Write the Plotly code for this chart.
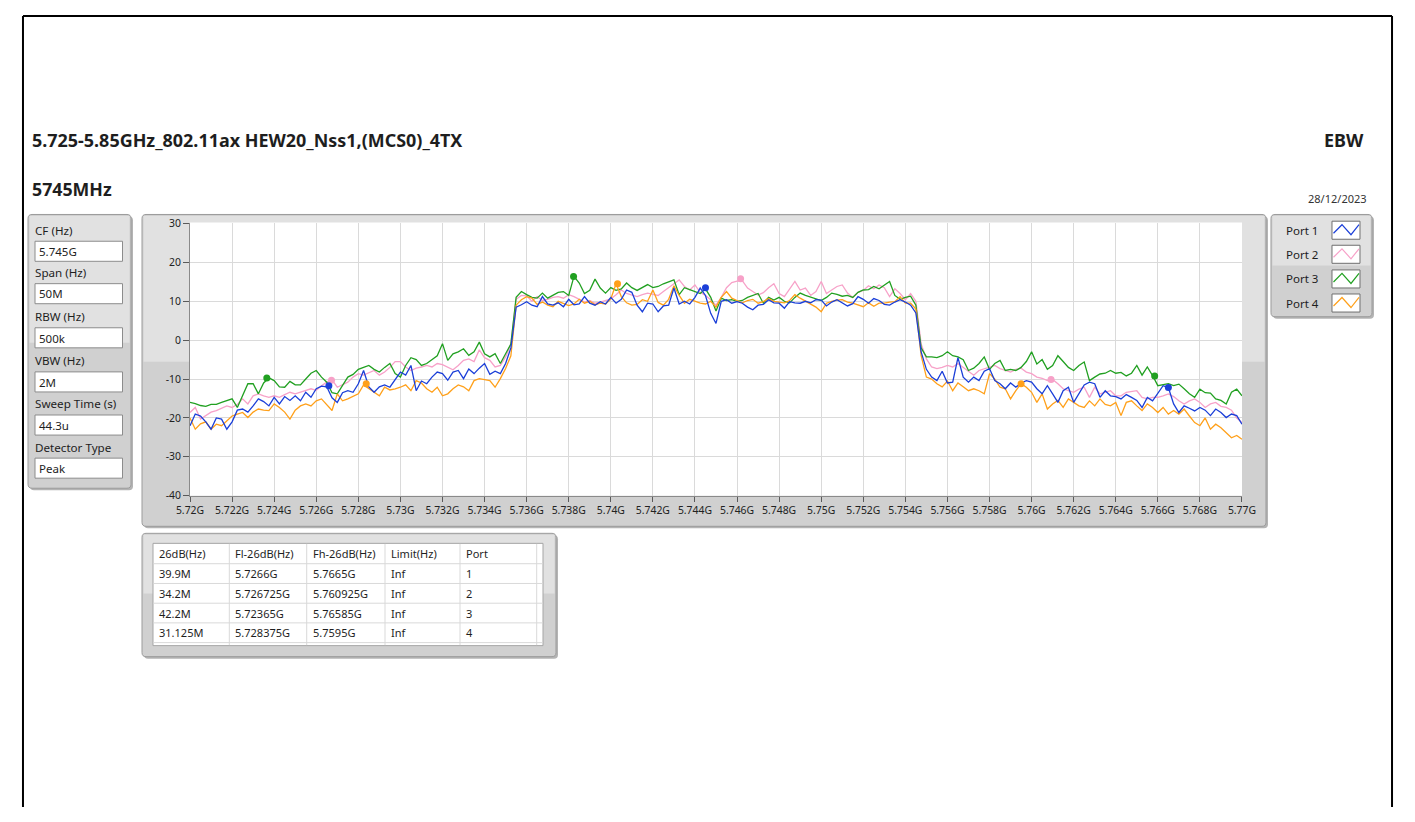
import numpy as np
import plotly.graph_objects as go

PAGE_W, PAGE_H = 1415, 822
BODY_MARGIN = 8
W, H = PAGE_W - 2 * BODY_MARGIN, PAGE_H - 2 * BODY_MARGIN
VIEW_SCALE = 0.98  # the photographed page is shrunk about its centre by this factor

# ---------------- data ----------------
FREQ_START_GHZ = 5.72
FREQ_STOP_GHZ = 5.77

# trace levels (dBm), one value every 0.25 MHz from 5.72 GHz to 5.77 GHz
PORT1 = [
    -22, -19, -19.5, -21, -22.9, -20, -20.3, -22.9, -21, -18, -17.7, -18.5, -16.9, -15.1, -15.8, -16.9, -14.7, -16.4, -14.5, -15.5,
    -14.3, -15.6, -13.4, -14.7, -12.5, -11.8, -12, -14.8, -16, -13.5, -13, -13.4, -11.2, -7.8, -12, -13.4, -12, -11.5, -12.1, -10.3,
    -8.2, -9, -6.5, -13, -10.5, -11.2, -9.5, -8.2, -8.6, -10.3, -8.2, -7.8, -9.9, -7.4, -8.6, -7.2, -6, -8.8, -8, -8.6,
    -6, -2, 8.5, 9.1, 9.9, 9, 8.6, 11.2, 9.3, 9, 9.6, 8.6, 10.5, 9.1, 9.3, 11.2, 9.5, 9, 9.9, 9.3,
    11, 9.5, 10.5, 12.9, 12.3, 9, 7.3, 9.5, 9.3, 7.3, 8.8, 9, 13.4, 9.3, 10, 9.3, 11, 13.4, 11.5, 6.9,
    4.3, 10, 10.4, 9.5, 9.9, 9.5, 8.5, 7.8, 9, 9.2, 10.4, 9.6, 9.5, 8.2, 9.9, 9.6, 9.5, 10, 9.6, 10.4,
    10.3, 8.8, 9.8, 10.4, 9.5, 8.8, 9.4, 11.2, 10.5, 9.5, 10.7, 10.2, 9.2, 9, 9.8, 10.4, 9.8, 9, 7, -3,
    -7.5, -9.5, -10.4, -8, -11, -10.8, -4.5, -9.5, -10.8, -9.5, -10.4, -8, -7.3, -10.4, -11.2, -12.5, -11, -12.1, -11, -10.4,
    -10.8, -12.5, -13.8, -11.7, -13.8, -16, -13, -12.1, -16, -13.8, -11.5, -10.8, -11.2, -14.7, -13, -14.3, -14.5, -15.1, -14, -14.7,
    -15.5, -17.3, -14.7, -15.6, -13.8, -11.7, -12.2, -16.4, -18.6, -16.9, -17.5, -18.2, -17.3, -18, -19.4, -17.7, -18.6, -19.9, -19, -19.4,
    -21.6,
]
PORT2 = [
    -18.6, -17.3, -20.3, -19.5, -18.5, -18.1, -17.5, -16.9, -17.3, -16.5, -15.1, -16.4, -14.3, -13.8, -14.3, -14.7, -14.3, -14.7, -14, -13.4,
    -13.8, -13.4, -12.8, -12.5, -12.9, -11.7, -10.8, -10.2, -12.1, -11.5, -10.8, -9.5, -8.6, -9, -8.5, -7.8, -9, -8.2, -7, -5.5,
    -5.5, -6.9, -7.8, -7.2, -6.9, -6.5, -6.9, -6, -6.3, -7, -7.6, -6.5, -5.2, -4.8, -5.5, -2.5, -4.5, -5.2, -6.9, -6.5,
    -4.3, -1, 10.5, 11.5, 11.4, 10, 11.2, 10.2, 10.5, 11, 11.2, 10.8, 11.7, 11.2, 10.4, 9.8, 10.2, 9.5, 9.8, 10.2,
    10.6, 11.7, 12.9, 12, 11.5, 11.2, 11.7, 12.1, 11.8, 11.5, 12.5, 13.4, 14.5, 15.5, 13.8, 12.9, 14.2, 12.3, 11.5, 10.4,
    9, 11, 13.5, 14.8, 15.2, 15.3, 13.4, 12.5, 11.6, 12.2, 13.5, 14.5, 12, 11.2, 13, 15.1, 12.9, 13.4, 11.5, 12.5,
    15.1, 12, 12.9, 13.8, 14.2, 12.1, 11, 12.3, 12.8, 14, 13.2, 14.2, 13.5, 11.2, 13.2, 12, 10.4, 12, 10, -1,
    -4.8, -6.9, -7.3, -7, -6.5, -6.9, -6, -7, -8.2, -9, -7.8, -7.3, -6.8, -6.5, -7.3, -7.8, -8.2, -7.5, -7.2, -8.2,
    -8.6, -9.5, -9.8, -10.4, -10.1, -11.2, -12.5, -13, -13.4, -12.6, -12.1, -14.7, -12.1, -13.8, -13.4, -13, -14.3, -14.3, -13.4, -13.2,
    -13, -14.7, -15.1, -14.7, -14.7, -14.3, -13.8, -14.5, -15.6, -16.4, -15.6, -15.1, -16, -17.3, -16.4, -16, -17, -17.3, -18, -20,
    -21.2,
]
PORT3 = [
    -16, -16.3, -16.8, -17, -16.5, -16.5, -16, -15.5, -15.1, -17.3, -14, -11.2, -11.2, -13.8, -11, -9.7, -10.4, -12, -12.1, -10.6,
    -11.5, -11.5, -10, -8.5, -7.8, -9.5, -10.8, -13.5, -13.8, -11.5, -9.5, -8.8, -7.5, -7, -6.5, -7.5, -8.2, -7, -6, -8.6,
    -9.5, -6.5, -4.5, -5, -6.5, -6, -5, -4, -0.9, -5.2, -3.5, -3, -2.2, -3.9, -3, -0.5, -3.5, -4.3, -3.5, -6,
    -3.5, -1, 11, 12.5, 11.7, 11, 10.8, 12.1, 10.8, 11.5, 12.3, 12.5, 11.5, 16.4, 14.7, 12, 12.8, 15.7, 13.4, 12.1,
    13.5, 12.8, 13.2, 14.7, 13.5, 12.8, 13.5, 14.3, 13.5, 13.8, 14.5, 15.1, 15.5, 11.7, 13.5, 13, 12.5, 12, 13.2, 11,
    7.5, 10.8, 10.2, 10.4, 10, 10.2, 11, 11.5, 12, 9.5, 11, 10.3, 11, 10, 9.6, 11, 12.1, 11.5, 11, 10.5,
    10.2, 11, 12.1, 11.8, 11.3, 11.5, 11, 12.3, 12.9, 13, 13.8, 13.2, 14.2, 15.1, 11.5, 10.5, 11, 11.3, 9, -2,
    -4.3, -4.3, -4.5, -4, -3, -4, -4.3, -5, -7.8, -7.2, -6, -4.3, -7.5, -6, -5.2, -7.8, -7.5, -7.8, -7, -5.5,
    -3, -6.1, -5, -7.5, -6.5, -4, -5.5, -7, -7.8, -6.5, -5.6, -10.4, -9.5, -8.7, -8.5, -7.8, -8.5, -8.3, -9.2, -8.5,
    -6.5, -9, -6.9, -9.1, -11.7, -11.5, -11.2, -11.7, -11.3, -12.5, -13.8, -14.7, -12.6, -13.5, -13.6, -15.1, -15.5, -16.4, -13.4, -12.6,
    -14.3,
]
PORT4 = [
    -20, -22.9, -21.5, -21, -22.9, -21.6, -22, -20.7, -19.5, -19, -18.6, -19.9, -18.5, -17.7, -18, -18.1, -16.4, -17.3, -18.5, -20.3,
    -18, -16.9, -16.4, -16.9, -15.6, -15.1, -16.5, -18.1, -13.8, -15.6, -15.1, -14.5, -13.8, -11.5, -12.5, -13.5, -14.3, -12.1, -12.8, -12.5,
    -12.1, -11.5, -13, -10.4, -11, -12.5, -13.4, -12.1, -14.3, -13.8, -12.5, -11.5, -12, -13, -10.4, -9.9, -10.2, -10.4, -12.1, -9.9,
    -7.3, -4, 9, 10.4, 11.2, 10.8, 9.2, 9.8, 9, 8.6, 10, 9.5, 8.9, 9.3, 10.5, 9.5, 10, 9.1, 9.5, 9.3,
    10.6, 14.5, 11.2, 9.6, 9, 9.2, 10.4, 10, 12.9, 9.7, 9, 10.5, 14, 11.5, 9.5, 10.5, 10, 9.5, 9.3, 10,
    8.5, 11, 12.5, 10.8, 10.2, 9.6, 10.2, 10.5, 9.5, 9.9, 10.7, 10, 9.8, 9.6, 10.2, 11.7, 10.8, 10, 9.2, 8.5,
    7.3, 9.5, 10, 10.3, 10.4, 9.8, 9.5, 9, 8.6, 9.6, 8.7, 9.5, 9.5, 9.8, 9.9, 11.2, 9.5, 9.5, 8, -4,
    -9.5, -10, -11.2, -12, -10.5, -13, -11, -12, -13, -12.5, -13, -13.8, -8.6, -10, -12.1, -12.5, -15.1, -13, -11.2, -12.1,
    -13.4, -16, -13.8, -17.7, -16.4, -15.5, -17.3, -15.1, -16, -16.9, -17.3, -15.6, -16.9, -15.1, -16.5, -16.9, -16, -19.4, -16, -15.6,
    -16.9, -18.1, -16.4, -17.3, -18.6, -17.3, -19, -18.1, -19, -17.7, -19.5, -21.2, -22, -20, -22.9, -21.6, -22.5, -23.8, -25.1, -24.5,
    -25.5,
]

PORT_NAMES = ["Port 1", "Port 2", "Port 3", "Port 4"]
PORT_COLORS = ["#1b3fd8", "#f7a1c8", "#21a021", "#ffa01a"]

# marker positions (Fl-26dB, peak, Fh-26dB)
FL_FREQ = [5.7266, 5.726725, 5.72365, 5.728375]
FH_FREQ = [5.7665, 5.760925, 5.76585, 5.7595]
FL_LEVEL = [-11.7, -10.3, -9.7, -11.2]
FH_LEVEL = [-12.2, -10.1, -9.2, -11.2]
PEAK_FREQ = [5.7445, 5.74617, 5.73823, 5.74032]
PEAK_LEVEL = [13.5, 15.8, 16.4, 14.5]

X_TICK_VALS = [5.720, 5.722, 5.724, 5.726, 5.728, 5.730, 5.732, 5.734, 5.736, 5.738,
               5.740, 5.742, 5.744, 5.746, 5.748, 5.750, 5.752, 5.754, 5.756, 5.758,
               5.760, 5.762, 5.764, 5.766, 5.768, 5.770]
X_TICK_TEXT = ["5.72G", "5.722G", "5.724G", "5.726G", "5.728G", "5.73G", "5.732G", "5.734G",
               "5.736G", "5.738G", "5.74G", "5.742G", "5.744G", "5.746G", "5.748G", "5.75G",
               "5.752G", "5.754G", "5.756G", "5.758G", "5.76G", "5.762G", "5.764G", "5.766G",
               "5.768G", "5.77G"]
Y_TICK_VALS = [-40, -30, -20, -10, 0, 10, 20, 30]
Y_TICK_TEXT = ["-40", "-30", "-20", "-10", "0", "10", "20", "30"]

TABLE_HEADER = ["26dB(Hz)", "Fl-26dB(Hz)", "Fh-26dB(Hz)", "Limit(Hz)", "Port"]
TABLE_BW = ["39.9M", "34.2M", "42.2M", "31.125M"]
TABLE_FL = ["5.7266G", "5.726725G", "5.72365G", "5.728375G"]
TABLE_FH = ["5.7665G", "5.760925G", "5.76585G", "5.7595G"]
TABLE_LIMIT = ["Inf", "Inf", "Inf", "Inf"]
TABLE_PORT = ["1", "2", "3", "4"]

SETTING_LABELS = ["CF (Hz)", "Span (Hz)", "RBW (Hz)", "VBW (Hz)", "Sweep Time (s)", "Detector Type"]
SETTING_VALUES = ["5.745G", "50M", "500k", "2M", "44.3u", "Peak"]

TITLE = "5.725-5.85GHz_802.11ax HEW20_Nss1,(MCS0)_4TX"
SUBTITLE = "5745MHz"
TEST_NAME = "EBW"
DATE = "28/12/2023"

FONT = "Noto Sans"
TXT = "#1e1e1e"


# ---------------- helpers (target picture pixel -> paper fraction) ----------------
def page_x(t):
    return PAGE_W / 2 + (t - PAGE_W / 2) / VIEW_SCALE


def page_y(t):
    return PAGE_H / 2 + (t - PAGE_H / 2) / VIEW_SCALE


def X(px):
    return (page_x(px) - BODY_MARGIN) / W


def Y(py):
    return 1 - (page_y(py) - BODY_MARGIN) / H


def FS(size):
    return size / VIEW_SCALE


shapes = []
annotations = []


def rrect_path(x0, y0, x1, y1, r=4):
    return (f"M{X(x0 + r)},{Y(y0)} L{X(x1 - r)},{Y(y0)} Q{X(x1)},{Y(y0)} {X(x1)},{Y(y0 + r)} "
            f"L{X(x1)},{Y(y1 - r)} Q{X(x1)},{Y(y1)} {X(x1 - r)},{Y(y1)} "
            f"L{X(x0 + r)},{Y(y1)} Q{X(x0)},{Y(y1)} {X(x0)},{Y(y1 - r)} "
            f"L{X(x0)},{Y(y0 + r)} Q{X(x0)},{Y(y0)} {X(x0 + r)},{Y(y0)} Z")


def rect(x0, y0, x1, y1, fill, line_color=None, lw=1):
    shapes.append(dict(type="rect", xref="paper", yref="paper", x0=X(x0), x1=X(x1), y0=Y(y1), y1=Y(y0),
                       fillcolor=fill, line=dict(color=line_color or fill, width=lw if line_color else 0),
                       layer="below"))


def hline(x0, x1, y, color, lw=1):
    shapes.append(dict(type="line", xref="paper", yref="paper", x0=X(x0), x1=X(x1), y0=Y(y), y1=Y(y),
                       line=dict(color=color, width=lw), layer="below"))


def vline(x, y0, y1, color, lw=1):
    shapes.append(dict(type="line", xref="paper", yref="paper", x0=X(x), x1=X(x), y0=Y(y0), y1=Y(y1),
                       line=dict(color=color, width=lw), layer="below"))


def panel(x0, y0, x1, y1, split):
    shapes.append(dict(type="path", xref="paper", yref="paper", path=rrect_path(x0 + 2, y0 + 2, x1 + 2, y1 + 2),
                       fillcolor="#b4b4b4", line=dict(width=0), layer="below"))
    shapes.append(dict(type="path", xref="paper", yref="paper", path=rrect_path(x0, y0, x1, y1),
                       fillcolor="#d0d0d0", line=dict(color="#9b9b9b", width=1), layer="below"))
    rect(x0 + 1.5, y0 + 1.5, x1 - 1.5, split, "#e1e1e1")


def text(px, py, s, size=11.5, bold=False, anchor="left", color=TXT):
    annotations.append(dict(x=X(px), y=Y(py), xref="paper", yref="paper",
                            text=f"<b>{s}</b>" if bold else s, showarrow=False,
                            xanchor=anchor, yanchor="middle", borderpad=0,
                            font=dict(family=FONT, size=FS(size), color=color)))


# ---------------- page frame (drawn at the very edge of the figure) ----------------
for (ax0, ay0, ax1, ay1) in [(1, 1, 1, H), (1, 1, W - 1, 1), (W - 1, 1, W - 1, H)]:
    shapes.append(dict(type="line", xref="paper", yref="paper",
                       x0=ax0 / W, x1=ax1 / W, y0=1 - ay0 / H, y1=1 - ay1 / H,
                       line=dict(color="#000000", width=2), layer="below"))

# ---------------- headings ----------------
text(31, 141, TITLE, size=17.6, bold=True)
text(31, 190, SUBTITLE, size=17.4, bold=True)
text(1365, 141, TEST_NAME, size=17.6, bold=True, anchor="right")
text(1368, 199, DATE, size=10.8, anchor="right", color="#333333")

# ---------------- settings panel ----------------
panel(28, 215, 131, 488, 343)
label_y = [230.7, 273, 317, 361, 404, 447]
for lab, val, ly in zip(SETTING_LABELS, SETTING_VALUES, label_y):
    text(34, ly, lab, size=11.4)
    rect(35, ly + 11, 122.5, ly + 31, "#ffffff", "#8c8c8c", 1)
    text(37.5, ly + 21.3, val, size=11.3)

# ---------------- graph panel ----------------
panel(142, 215, 1266, 526, 362)
rect(190, 223, 1242, 495.5, "#ffffff")

# ---------------- legend panel ----------------
panel(1271, 215, 1372, 317, 266)
leg_y = [230.7, 254.7, 279.3, 303.3]
for name, col, cy in zip(PORT_NAMES, PORT_COLORS, leg_y):
    text(1285, cy, name, size=11.3)
    rect(1332, cy - 9, 1360, cy + 9, "#ffffff", "#6f6f6f", 1)
    zig = (f"M{X(1333.5)},{Y(cy + 3)} L{X(1342)},{Y(cy - 5.5)} "
           f"L{X(1351)},{Y(cy + 4.5)} L{X(1359)},{Y(cy - 5.5)}")
    shapes.append(dict(type="path", xref="paper", yref="paper", path=zig,
                       line=dict(color=col, width=1.2), layer="above"))

# ---------------- results table ----------------
panel(142, 533, 556, 656, 593)
rect(153, 543, 543, 645, "#ffffff", "#a5a5a5", 1)
for yy in [563.3, 583, 602.7, 622.3, 642]:
    hline(153.5, 542.5, yy, "#d9d9d9", 1)
for xx in [229.3, 306.7, 385, 460, 536.7]:
    vline(xx, 543.5, 644.5, "#d9d9d9", 1)
col_x = [158, 234, 311.5, 390, 465]
for cx, hdr in zip(col_x, TABLE_HEADER):
    text(cx, 553.3, hdr, size=10.8)
row_y = [573.3, 593.3, 612.7, 631.7]
for i, ry in enumerate(row_y):
    for cx, col in zip(col_x, [TABLE_BW, TABLE_FL, TABLE_FH, TABLE_LIMIT, TABLE_PORT]):
        text(cx, ry, col[i], size=10.8)

# ---------------- traces ----------------
series = [PORT1, PORT2, PORT3, PORT4]
fig = go.Figure()
for idx in [1, 2, 3, 0]:
    vals = series[idx]
    freq = np.linspace(FREQ_START_GHZ, FREQ_STOP_GHZ, len(vals))
    fig.add_trace(go.Scatter(x=freq, y=vals, mode="lines", name=PORT_NAMES[idx],
                             line=dict(color=PORT_COLORS[idx], width=1.3), hoverinfo="skip",
                             showlegend=False))
for idx in [1, 2, 3, 0]:
    fig.add_trace(go.Scatter(x=[FL_FREQ[idx], PEAK_FREQ[idx], FH_FREQ[idx]],
                             y=[FL_LEVEL[idx], PEAK_LEVEL[idx], FH_LEVEL[idx]],
                             mode="markers", marker=dict(color=PORT_COLORS[idx], size=7),
                             hoverinfo="skip", showlegend=False))

axis_common = dict(showgrid=True, gridcolor="#dadada", gridwidth=1, zeroline=False,
                   showline=True, linecolor="#8a8a8a", linewidth=1,
                   ticks="outside", tickcolor="#5a5a5a", tickmode="array",
                   tickfont=dict(family=FONT, size=FS(10.2), color="#222222"), fixedrange=True)

fig.update_layout(
    width=W, height=H, autosize=False,
    margin=dict(l=0, r=0, t=0, b=0),
    paper_bgcolor="#ffffff", plot_bgcolor="#ffffff",
    showlegend=False,
    xaxis=dict(domain=[X(190), X(1242)], range=[FREQ_START_GHZ, FREQ_STOP_GHZ],
               tickvals=X_TICK_VALS, ticktext=X_TICK_TEXT, tickangle=0, ticklen=5, **axis_common),
    yaxis=dict(domain=[Y(495.5), Y(224)], range=[-40, 30],
               tickvals=Y_TICK_VALS, ticktext=Y_TICK_TEXT, ticklen=6, **axis_common),
    shapes=shapes,
    annotations=annotations,
)

fig.write_html("out.html", config={"displayModeBar": False, "responsive": False})
